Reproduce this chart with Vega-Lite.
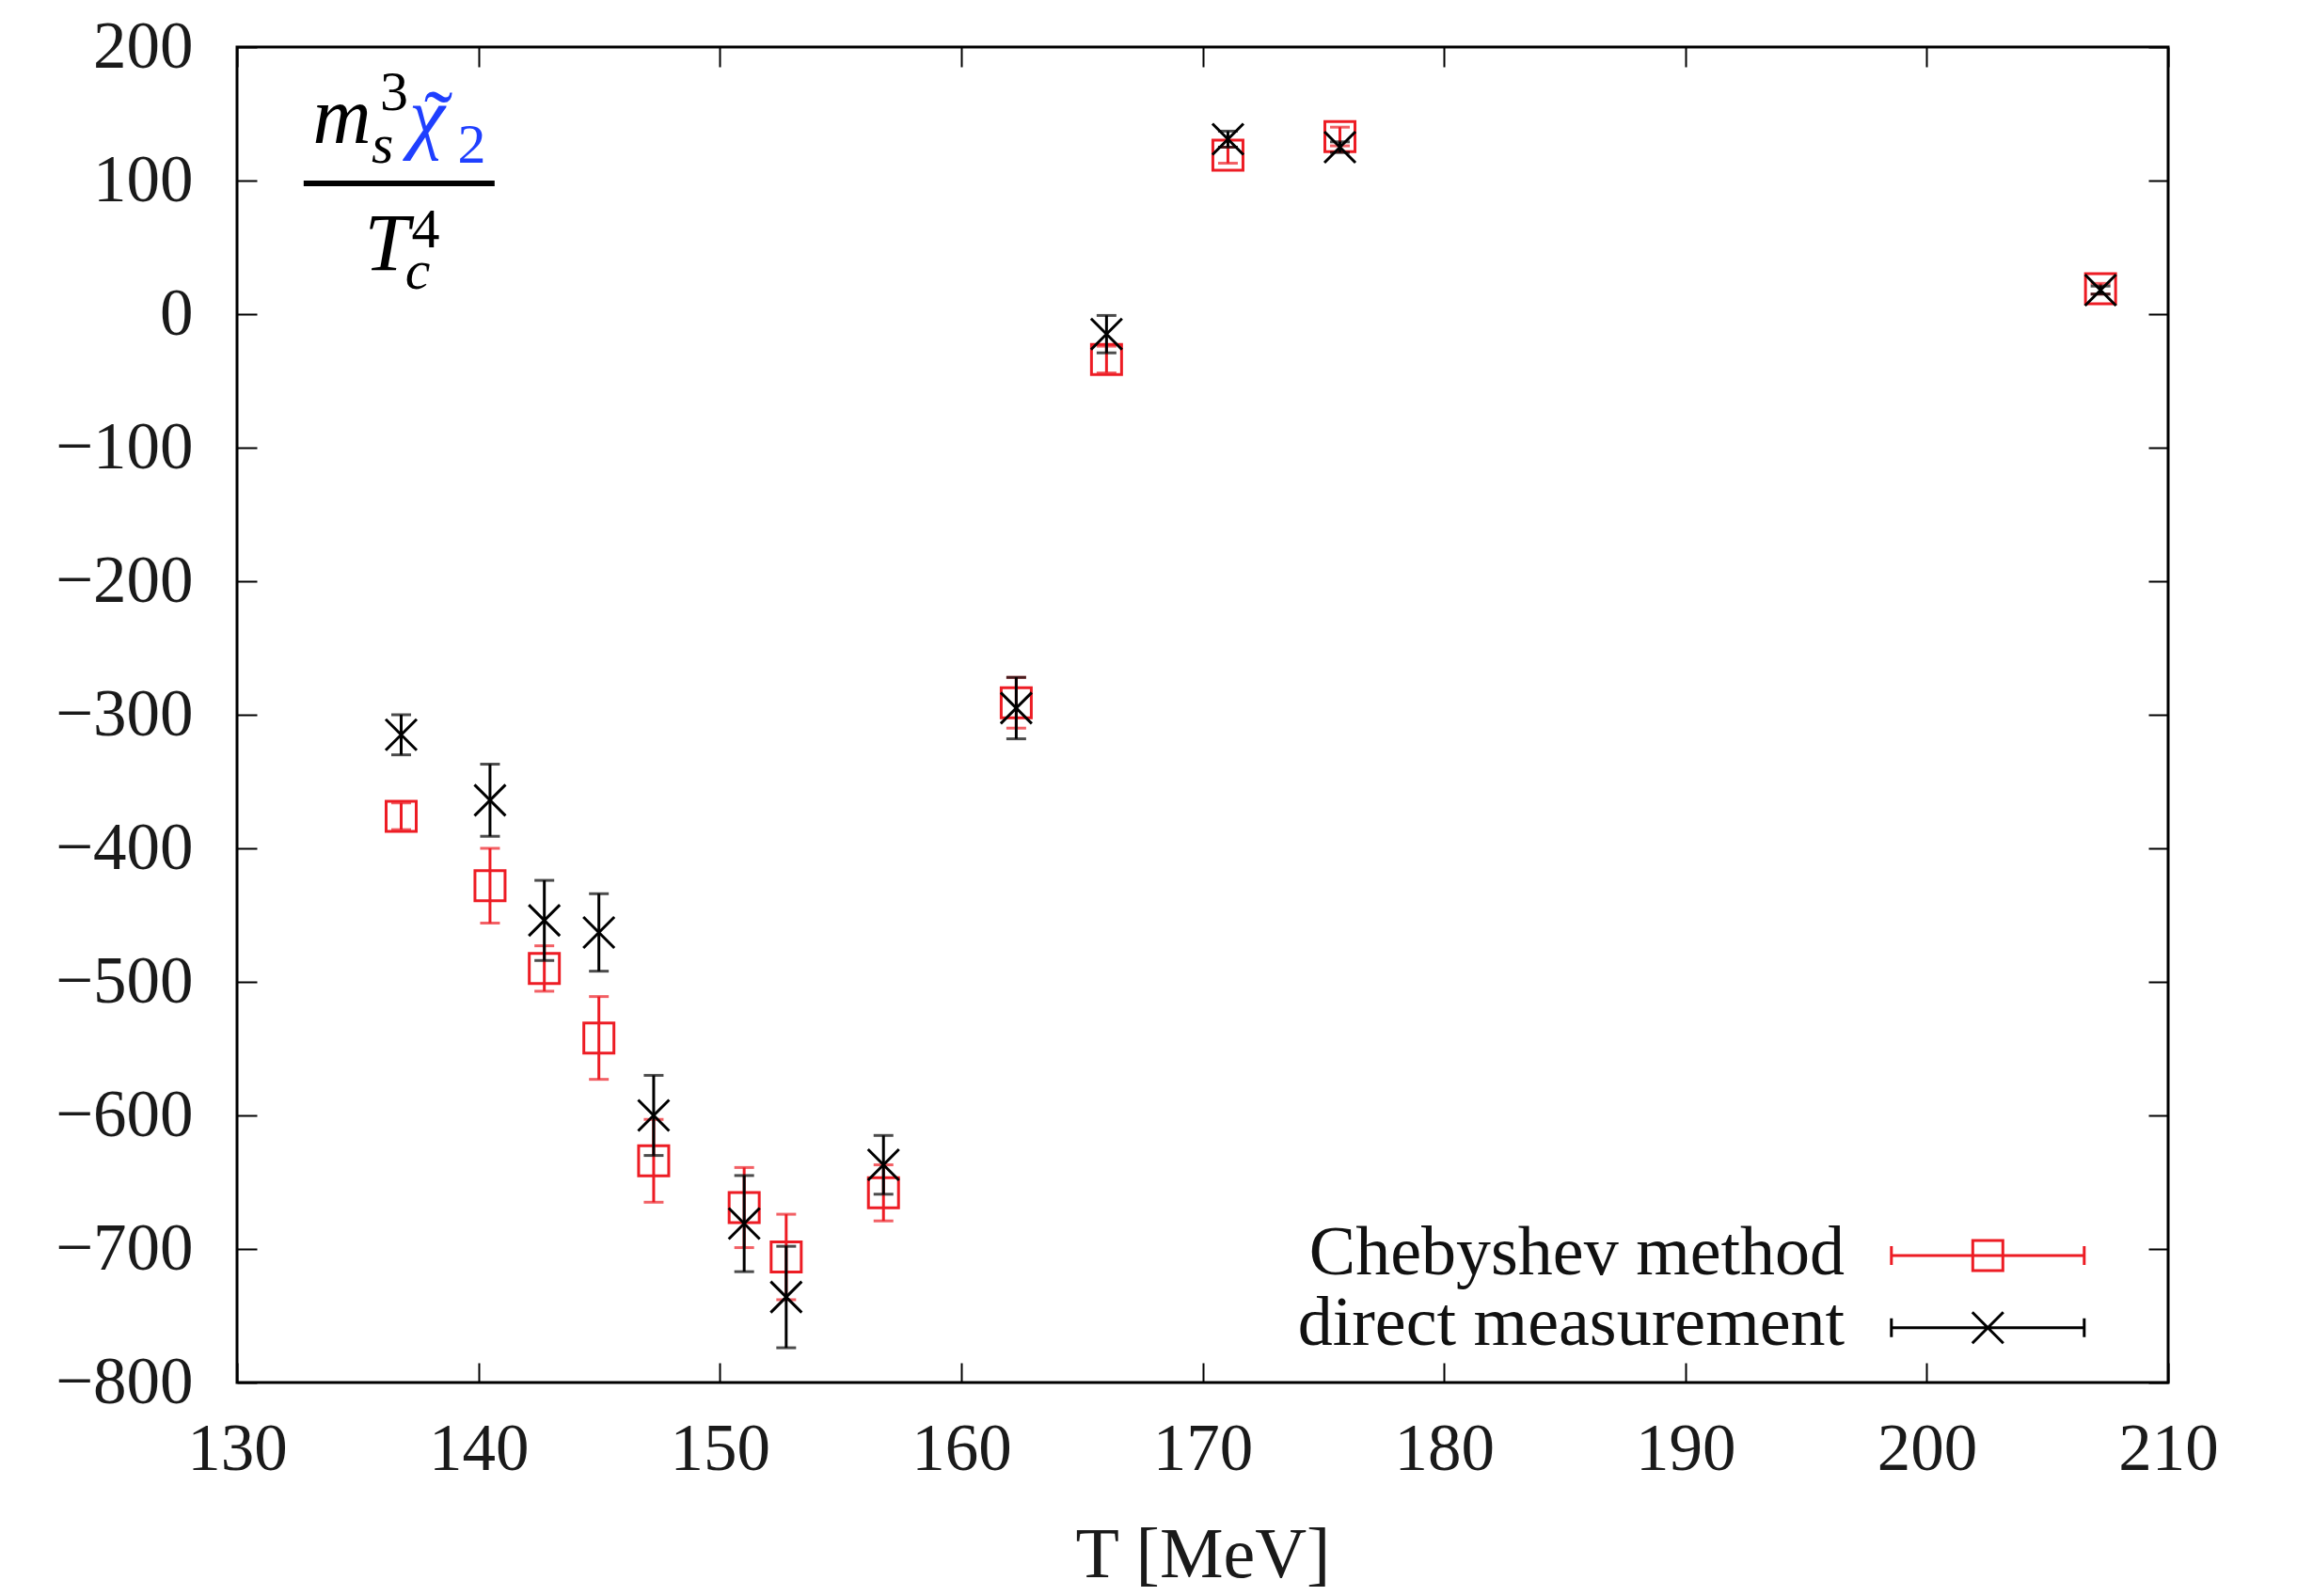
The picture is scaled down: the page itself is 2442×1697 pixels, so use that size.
{
  "$schema": "https://vega.github.io/schema/vega-lite/v6.json",
  "width": 2053,
  "height": 1420,
  "autosize": "none",
  "padding": {"left": 252, "top": 50, "right": 137, "bottom": 227},
  "background": "white",
  "config": {
    "view": {"stroke": "black", "strokeWidth": 3},
    "axis": {
      "grid": false, "domain": false, "tickColor": "black", "tickWidth": 2, "tickSize": -21,
      "labelFont": "Liberation Serif", "labelFontSize": 71, "labelColor": "#1a1a1a",
      "titleFont": "Liberation Serif", "titleFontSize": 76, "titleFontWeight": "normal", "titleColor": "#1a1a1a",
      "labelFlush": false, "labelOverlap": false, "labelBound": false
    },
    "text": {"font": "Liberation Serif", "color": "#111111"}
  },
  "datasets": {
    "pts": [
      {"series": "Chebyshev method", "T": 136.8, "v": -376, "lo": -386, "hi": -366},
      {"series": "Chebyshev method", "T": 140.48, "v": -428, "lo": -456, "hi": -400},
      {"series": "Chebyshev method", "T": 142.73, "v": -490, "lo": -507, "hi": -473},
      {"series": "Chebyshev method", "T": 144.99, "v": -542, "lo": -573, "hi": -511},
      {"series": "Chebyshev method", "T": 147.26, "v": -634, "lo": -665, "hi": -603},
      {"series": "Chebyshev method", "T": 151.01, "v": -669, "lo": -699, "hi": -639},
      {"series": "Chebyshev method", "T": 152.75, "v": -706, "lo": -738, "hi": -674},
      {"series": "Chebyshev method", "T": 156.78, "v": -658, "lo": -679, "hi": -637},
      {"series": "Chebyshev method", "T": 162.28, "v": -291, "lo": -310, "hi": -272},
      {"series": "Chebyshev method", "T": 166.02, "v": -34, "lo": -44, "hi": -24},
      {"series": "Chebyshev method", "T": 171.05, "v": 119, "lo": 113, "hi": 125},
      {"series": "Chebyshev method", "T": 175.69, "v": 133, "lo": 126, "hi": 140},
      {"series": "Chebyshev method", "T": 207.2, "v": 19, "lo": 15, "hi": 23},
      {"series": "direct measurement", "T": 136.8, "v": -315, "lo": -330, "hi": -300},
      {"series": "direct measurement", "T": 140.48, "v": -364, "lo": -391, "hi": -337},
      {"series": "direct measurement", "T": 142.73, "v": -454, "lo": -484, "hi": -424},
      {"series": "direct measurement", "T": 144.99, "v": -463, "lo": -492, "hi": -434},
      {"series": "direct measurement", "T": 147.26, "v": -600, "lo": -630, "hi": -570},
      {"series": "direct measurement", "T": 151.01, "v": -681, "lo": -717, "hi": -645},
      {"series": "direct measurement", "T": 152.75, "v": -736, "lo": -774, "hi": -698},
      {"series": "direct measurement", "T": 156.78, "v": -637, "lo": -659, "hi": -615},
      {"series": "direct measurement", "T": 162.28, "v": -295, "lo": -318, "hi": -272},
      {"series": "direct measurement", "T": 166.02, "v": -15, "lo": -29, "hi": -1},
      {"series": "direct measurement", "T": 171.05, "v": 131, "lo": 125, "hi": 137},
      {"series": "direct measurement", "T": 175.69, "v": 125, "lo": 121, "hi": 129},
      {"series": "direct measurement", "T": 207.2, "v": 18, "lo": 15, "hi": 21}
    ]
  },
  "resolve": {"axis": {"x": "independent", "y": "independent"}},
  "layer": [
    {
      "data": {"name": "pts"},
      "transform": [{"filter": {"field": "series", "equal": "Chebyshev method"}}],
      "mark": {"type": "rule", "color": "#ed1c24", "strokeWidth": 3},
      "encoding": {
        "x": {"field": "T", "type": "quantitative", "scale": {"domain": [130, 210], "nice": false, "zero": false},
              "axis": {"orient": "bottom", "values": [130, 140, 150, 160, 170, 180, 190, 200, 210], "labelPadding": 57, "title": "T [MeV]", "titlePadding": 40}},
        "y": {"field": "lo", "type": "quantitative", "scale": {"domain": [-800, 200], "nice": false, "zero": false},
              "axis": {"orient": "left", "values": [-800, -700, -600, -500, -400, -300, -200, -100, 0, 100, 200], "labelPadding": 68, "title": null}},
        "y2": {"field": "hi"}
      }
    },
    {
      "data": {"name": "pts"},
      "transform": [{"filter": {"field": "series", "equal": "Chebyshev method"}}],
      "mark": {"type": "tick", "orient": "horizontal", "color": "#ed1c24", "size": 21, "thickness": 3},
      "encoding": {
        "x": {"field": "T", "type": "quantitative",
              "axis": {"orient": "top", "values": [130, 140, 150, 160, 170, 180, 190, 200, 210], "labels": false, "title": null}},
        "y": {"field": "lo", "type": "quantitative",
              "axis": {"orient": "right", "values": [-800, -700, -600, -500, -400, -300, -200, -100, 0, 100, 200], "labels": false, "title": null}}
      }
    },
    {
      "data": {"name": "pts"},
      "transform": [{"filter": {"field": "series", "equal": "Chebyshev method"}}],
      "mark": {"type": "tick", "orient": "horizontal", "color": "#ed1c24", "size": 21, "thickness": 3},
      "encoding": {
        "x": {"field": "T", "type": "quantitative", "axis": null},
        "y": {"field": "hi", "type": "quantitative", "axis": null}
      }
    },
    {
      "data": {"name": "pts"},
      "transform": [{"filter": {"field": "series", "equal": "Chebyshev method"}}],
      "mark": {"type": "point", "shape": "square", "filled": false, "stroke": "#ed1c24", "strokeWidth": 3, "size": 1024, "opacity": 1},
      "encoding": {
        "x": {"field": "T", "type": "quantitative", "axis": null},
        "y": {"field": "v", "type": "quantitative", "axis": null}
      }
    },
    {
      "data": {"name": "pts"},
      "transform": [{"filter": {"field": "series", "equal": "direct measurement"}}],
      "mark": {"type": "rule", "color": "black", "strokeWidth": 3},
      "encoding": {
        "x": {"field": "T", "type": "quantitative", "axis": null},
        "y": {"field": "lo", "type": "quantitative", "axis": null},
        "y2": {"field": "hi"}
      }
    },
    {
      "data": {"name": "pts"},
      "transform": [{"filter": {"field": "series", "equal": "direct measurement"}}],
      "mark": {"type": "tick", "orient": "horizontal", "color": "black", "size": 21, "thickness": 3},
      "encoding": {
        "x": {"field": "T", "type": "quantitative", "axis": null},
        "y": {"field": "lo", "type": "quantitative", "axis": null}
      }
    },
    {
      "data": {"name": "pts"},
      "transform": [{"filter": {"field": "series", "equal": "direct measurement"}}],
      "mark": {"type": "tick", "orient": "horizontal", "color": "black", "size": 21, "thickness": 3},
      "encoding": {
        "x": {"field": "T", "type": "quantitative", "axis": null},
        "y": {"field": "hi", "type": "quantitative", "axis": null}
      }
    },
    {
      "data": {"name": "pts"},
      "transform": [{"filter": {"field": "series", "equal": "direct measurement"}}],
      "mark": {"type": "point", "shape": "M-1,-1L1,1M-1,1L1,-1", "filled": false, "stroke": "black", "strokeWidth": 3, "size": 1089, "opacity": 1},
      "encoding": {
        "x": {"field": "T", "type": "quantitative", "axis": null},
        "y": {"field": "v", "type": "quantitative", "axis": null}
      }
    },
    {
      "data": {"values": [{}]},
      "mark": {"type": "text", "text": "Chebyshev method", "align": "right", "baseline": "alphabetic", "fontSize": 74},
      "encoding": {"x": {"datum": 196.6, "type": "quantitative", "axis": null}, "y": {"datum": -719, "type": "quantitative", "axis": null}}
    },
    {
      "data": {"values": [{}]},
      "mark": {"type": "text", "text": "direct measurement", "align": "right", "baseline": "alphabetic", "fontSize": 74},
      "encoding": {"x": {"datum": 196.6, "type": "quantitative", "axis": null}, "y": {"datum": -772, "type": "quantitative", "axis": null}}
    },
    {
      "data": {"values": [{}]},
      "mark": {"type": "point", "shape": "M-1,0H1M-1,-0.0976V0.0976M1,-0.0976V0.0976M-0.156,-0.156H0.156V0.156H-0.156Z", "filled": false, "stroke": "#ed1c24", "strokeWidth": 3, "size": 42025, "opacity": 1},
      "encoding": {"x": {"datum": 202.53, "type": "quantitative", "axis": null}, "y": {"datum": -705, "type": "quantitative", "axis": null}}
    },
    {
      "data": {"values": [{}]},
      "mark": {"type": "point", "shape": "M-1,0H1M-1,-0.0976V0.0976M1,-0.0976V0.0976M-0.161,-0.161L0.161,0.161M-0.161,0.161L0.161,-0.161", "filled": false, "stroke": "black", "strokeWidth": 3, "size": 42025, "opacity": 1},
      "encoding": {"x": {"datum": 202.53, "type": "quantitative", "axis": null}, "y": {"datum": -759, "type": "quantitative", "axis": null}}
    },
    {
      "data": {"values": [{}]},
      "mark": {"type": "text", "text": "m", "align": "left", "baseline": "alphabetic", "fontSize": 86, "fontStyle": "italic", "color": "black"},
      "encoding": {"x": {"datum": 133.14, "type": "quantitative", "axis": null}, "y": {"datum": 128.4, "type": "quantitative", "axis": null}}
    },
    {
      "data": {"values": [{}]},
      "mark": {"type": "text", "text": "s", "align": "left", "baseline": "alphabetic", "fontSize": 60, "fontStyle": "italic", "color": "black"},
      "encoding": {"x": {"datum": 135.57, "type": "quantitative", "axis": null}, "y": {"datum": 113.4, "type": "quantitative", "axis": null}}
    },
    {
      "data": {"values": [{}]},
      "mark": {"type": "text", "text": "3", "align": "left", "baseline": "alphabetic", "fontSize": 60, "color": "black"},
      "encoding": {"x": {"datum": 135.92, "type": "quantitative", "axis": null}, "y": {"datum": 152.8, "type": "quantitative", "axis": null}}
    },
    {
      "data": {"values": [{}]},
      "mark": {"type": "text", "text": "\u03c7", "align": "left", "baseline": "alphabetic", "fontSize": 86, "fontStyle": "italic", "color": "#1f3fff"},
      "encoding": {"x": {"datum": 137.13, "type": "quantitative", "axis": null}, "y": {"datum": 128.2, "type": "quantitative", "axis": null}}
    },
    {
      "data": {"values": [{}]},
      "mark": {"type": "text", "text": "\u02dc", "align": "center", "baseline": "alphabetic", "fontSize": 92, "color": "#1f3fff"},
      "encoding": {"x": {"datum": 138.34, "type": "quantitative", "axis": null}, "y": {"datum": 123, "type": "quantitative", "axis": null}}
    },
    {
      "data": {"values": [{}]},
      "mark": {"type": "text", "text": "2", "align": "left", "baseline": "alphabetic", "fontSize": 60, "color": "#1f3fff"},
      "encoding": {"x": {"datum": 139.14, "type": "quantitative", "axis": null}, "y": {"datum": 113.4, "type": "quantitative", "axis": null}}
    },
    {
      "data": {"values": [{}]},
      "mark": {"type": "rule", "color": "black", "strokeWidth": 6},
      "encoding": {"x": {"datum": 132.76, "type": "quantitative", "axis": null}, "x2": {"datum": 140.67}, "y": {"datum": 97.9, "type": "quantitative", "axis": null}}
    },
    {
      "data": {"values": [{}]},
      "mark": {"type": "text", "text": "T", "align": "left", "baseline": "alphabetic", "fontSize": 86, "fontStyle": "italic", "color": "black"},
      "encoding": {"x": {"datum": 135.28, "type": "quantitative", "axis": null}, "y": {"datum": 33.1, "type": "quantitative", "axis": null}}
    },
    {
      "data": {"values": [{}]},
      "mark": {"type": "text", "text": "c", "align": "left", "baseline": "alphabetic", "fontSize": 60, "fontStyle": "italic", "color": "black"},
      "encoding": {"x": {"datum": 136.97, "type": "quantitative", "axis": null}, "y": {"datum": 19, "type": "quantitative", "axis": null}}
    },
    {
      "data": {"values": [{}]},
      "mark": {"type": "text", "text": "4", "align": "left", "baseline": "alphabetic", "fontSize": 60, "color": "black"},
      "encoding": {"x": {"datum": 137.23, "type": "quantitative", "axis": null}, "y": {"datum": 50, "type": "quantitative", "axis": null}}
    }
  ]
}
